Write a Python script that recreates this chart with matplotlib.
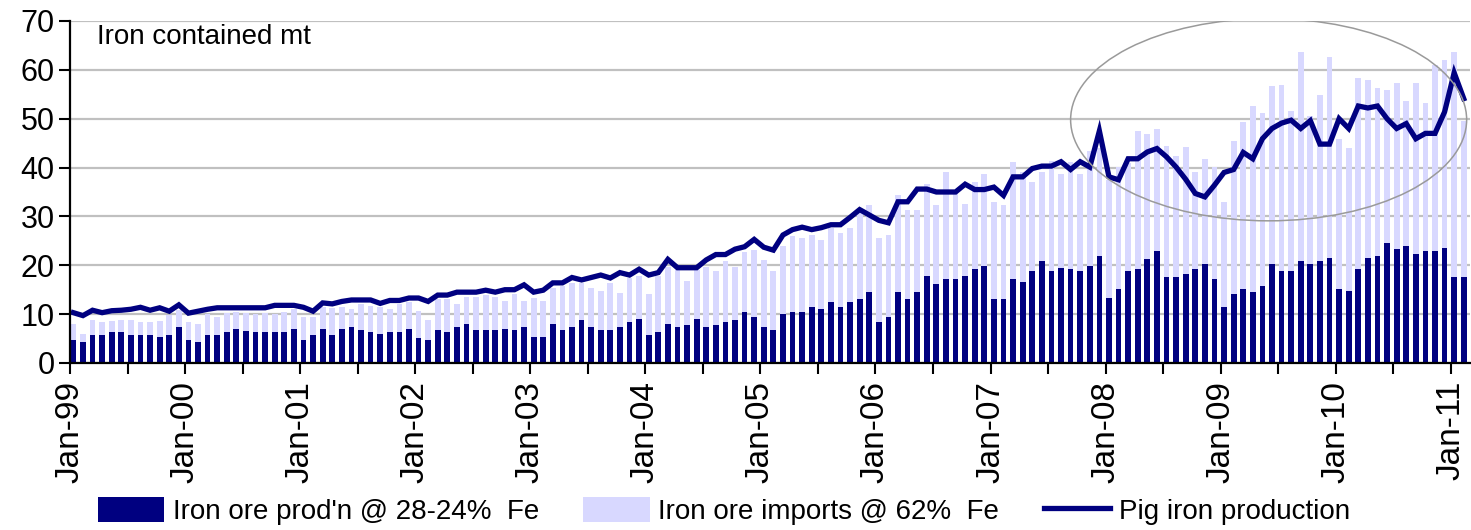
import matplotlib
matplotlib.use("Agg")
import matplotlib.pyplot as plt
from matplotlib import font_manager as fm
from matplotlib.patches import Ellipse
import numpy as np
import pandas as pd

# monthly, Jan-99 .. Feb-11, iron contained (mt)
domestic = [
    4.7, 4.3, 5.7, 5.7, 6.3, 6.3, 5.7, 5.7, 5.7, 5.3, 5.7, 7.4,
    4.7, 4.3, 5.7, 5.7, 6.3, 6.9, 6.6, 6.3, 6.3, 6.3, 6.3, 6.9,
    4.7, 5.7, 7.0, 5.7, 7.0, 7.4, 6.8, 6.4, 6.0, 6.4, 6.4, 7.0,
    5.2, 4.7, 6.8, 6.4, 7.4, 8.0, 6.8, 6.8, 6.8, 7.0, 6.8, 7.4,
    5.3, 5.3, 8.0, 6.8, 7.4, 8.8, 7.4, 6.8, 6.8, 7.4, 8.4, 9.0,
    5.7, 6.3, 8.0, 7.4, 7.8, 9.0, 7.4, 7.8, 8.4, 8.8, 10.4, 9.4,
    7.3, 6.7, 10.0, 10.4, 10.4, 11.4, 11.0, 12.4, 11.4, 12.4, 13.0, 14.5,
    8.3, 9.4, 14.5, 13.0, 14.5, 17.8, 16.1, 17.1, 17.1, 17.8, 19.2, 19.8,
    13.0, 13.0, 17.1, 16.5, 18.8, 20.8, 18.8, 19.4, 19.2, 18.8, 19.8, 21.8,
    13.4, 15.1, 18.8, 19.2, 21.2, 22.9, 17.7, 17.7, 18.2, 19.2, 20.2, 17.1,
    11.4, 14.1, 15.1, 14.5, 15.7, 20.2, 18.8, 18.8, 20.8, 20.2, 20.8, 21.4,
    15.1, 14.7, 19.2, 21.4, 21.8, 24.5, 23.3, 23.9, 22.3, 22.9, 22.9, 23.5,
    17.7, 17.7,
]
imports = [
    3.3, 1.6, 3.2, 2.7, 2.3, 2.6, 3.2, 2.7, 2.7, 3.3, 4.2, 3.4,
    3.7, 3.7, 4.3, 3.8, 4.0, 3.6, 3.7, 3.7, 4.0, 3.7, 4.2, 4.1,
    4.8, 3.8, 4.4, 5.5, 4.5, 3.7, 5.3, 5.3, 5.4, 4.7, 5.7, 5.5,
    5.4, 4.2, 6.2, 6.6, 4.7, 5.6, 6.8, 7.2, 6.8, 5.6, 7.3, 5.2,
    8.1, 7.4, 7.4, 9.0, 9.0, 7.5, 8.0, 8.0, 9.5, 6.9, 8.9, 8.9,
    8.4, 11.5, 11.7, 11.6, 9.0, 10.0, 12.2, 11.1, 12.5, 10.9, 12.4, 13.7,
    13.7, 12.1, 14.0, 15.6, 15.2, 14.7, 14.1, 15.3, 15.2, 15.2, 18.3, 17.8,
    17.3, 16.7, 19.8, 18.3, 16.8, 18.8, 16.2, 21.9, 18.1, 14.7, 17.8, 18.8,
    20.0, 19.3, 24.0, 22.5, 18.2, 18.2, 22.5, 19.2, 21.9, 19.8, 23.5, 22.2,
    24.1, 25.0, 22.2, 28.2, 25.6, 25.0, 26.7, 24.6, 26.0, 19.8, 21.5, 23.0,
    21.5, 31.3, 34.3, 38.1, 35.4, 36.5, 38.1, 32.7, 42.8, 30.3, 34.0, 41.2,
    30.7, 29.3, 39.1, 36.5, 34.4, 31.3, 34.0, 29.7, 35.0, 30.3, 38.1, 38.5,
    45.9, 31.8,
]
pig_iron = [
    10.3, 9.7, 10.8, 10.3, 10.7, 10.8, 11.0, 11.4, 10.8, 11.3, 10.6, 11.9,
    10.2, 10.6, 11.0, 11.3, 11.3, 11.3, 11.3, 11.3, 11.3, 11.8, 11.8, 11.8,
    11.4, 10.6, 12.3, 12.1, 12.6, 12.9, 12.9, 12.9, 12.2, 12.8, 12.8, 13.3,
    13.3, 12.6, 13.9, 13.9, 14.5, 14.5, 14.5, 14.9, 14.5, 15.0, 15.0, 16.0,
    14.5, 14.9, 16.4, 16.4, 17.5, 17.0, 17.5, 18.0, 17.4, 18.5, 18.0, 19.2,
    18.0, 18.5, 21.2, 19.5, 19.5, 19.5, 21.1, 22.2, 22.2, 23.3, 23.8, 25.3,
    23.7, 23.1, 26.2, 27.3, 27.8, 27.3, 27.7, 28.3, 28.3, 29.8, 31.4, 30.3,
    29.2, 28.7, 33.0, 33.0, 35.6, 35.6, 35.0, 35.0, 35.0, 36.6, 35.5, 35.5,
    36.0, 34.3, 38.1, 38.1, 39.8, 40.3, 40.3, 41.2, 39.6, 41.2, 40.1, 47.5,
    38.1, 37.5, 41.8, 41.8, 43.2, 43.9, 42.2, 40.1, 37.6, 34.7, 34.0, 36.4,
    39.0, 39.6, 43.1, 41.8, 45.9, 48.0, 49.1, 49.7, 48.0, 49.6, 44.8, 44.8,
    50.0, 48.0, 52.6, 52.2, 52.6, 50.0, 48.0, 49.0, 45.9, 47.0, 47.0, 51.4,
    59.4, 54.1,
]
labels = ["Iron ore prod'n @ 28-24%  Fe", "Iron ore imports @ 62%  Fe",
          "Pig iron production"]
year_ticks = pd.date_range("1999-01-01", periods=13, freq="12MS").strftime("%b-%y")

NAVY = "#000080"
LAVENDER = "#d8d8ff"

names = {f.name for f in fm.fontManager.ttflist}
if "Liberation Sans Narrow" in names:
    FAM = ["Liberation Sans Narrow", "DejaVu Sans"]
    fs_y, fs_x, fs_leg, fs_txt = 25, 26, 24, 23
else:
    FAM = ["Liberation Sans", "DejaVu Sans"]
    fs_y, fs_x, fs_leg, fs_txt = 22, 24, 20, 20
plt.rcParams["font.family"] = FAM

n = len(domestic)
x = np.arange(n) + 0.35

fig = plt.figure(figsize=(14.71, 5.30), dpi=100)
ax = fig.add_axes([70 / 1471, 1 - 363 / 530, 1400 / 1471, 342 / 530])

b1 = ax.bar(x, domestic, width=0.6, color=NAVY, label=labels[0], zorder=2)
b2 = ax.bar(x, imports, width=0.6, bottom=domestic, color=LAVENDER,
            label=labels[1], zorder=2)
ln, = ax.plot(x, pig_iron, color=NAVY, lw=3.8, label=labels[2], zorder=3,
              solid_joinstyle="miter")

ax.add_patch(Ellipse((125.0, 49.8), 41.3, 41.4, fill=False,
                     ec="#9a9a9a", lw=1.1, zorder=4))

ax.set_xlim(0, n)
ax.set_ylim(0, 70)
ax.set_yticks(range(0, 71, 10))
ax.set_xticks(range(0, n, 12))
ax.set_xticks(range(6, n, 12), minor=True)
ax.set_xticklabels(year_ticks, rotation=90, fontsize=fs_x)
ax.tick_params(axis="y", labelsize=fs_y, length=8, width=1.5, pad=3)
ax.tick_params(axis="x", which="both", length=8, width=1.5, pad=5)
ax.grid(axis="y", color="#c0c0c0", lw=1.6, zorder=0)
ax.set_axisbelow(True)
for s in ("top", "right"):
    ax.spines[s].set_visible(False)
for s in ("left", "bottom"):
    ax.spines[s].set_linewidth(1.6)
    ax.spines[s].set_zorder(5)

ax.text(0.019, 0.99, "Iron contained mt", transform=ax.transAxes,
        ha="left", va="top", fontsize=fs_txt)

fig.legend([b1, b2, ln], labels, loc="center", bbox_to_anchor=(0.492, 0.036),
           ncol=3, frameon=False, fontsize=fs_leg, handlelength=2.4,
           handleheight=1.0, handletextpad=0.3, columnspacing=1.6,
           borderpad=0, borderaxespad=0)

fig.savefig("out.png", dpi=100)
